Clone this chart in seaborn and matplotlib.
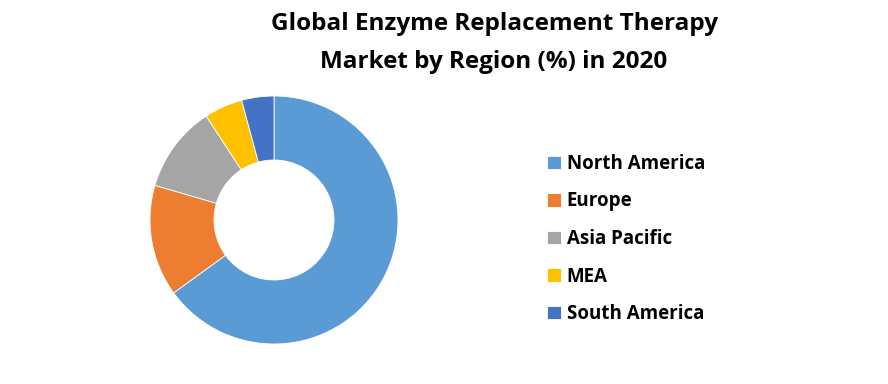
import matplotlib
matplotlib.use("Agg")
import matplotlib.pyplot as plt
import seaborn as sns

regions = ["North America", "Europe", "Asia Pacific", "MEA", "South America"]
shares = [65.0, 14.5, 11.3, 5.0, 4.2]
colors = ["#5B9BD5", "#ED7D31", "#A5A5A5", "#FFC000", "#4472C4"]
title = "Global Enzyme Replacement Therapy\nMarket by Region (%) in 2020"

sns.set_theme(style="white")
plt.rcParams["font.family"] = ["Open Sans", "DejaVu Sans"]

W, H = 888, 384
fig = plt.figure(figsize=(W / 100, H / 100), dpi=100)
fig.patch.set_facecolor("white")

cx, cy, r = 274, 220, 124
ax = fig.add_axes([(cx - r) / W, (H - cy - r) / H, 2 * r / W, 2 * r / H])
wedges, _ = ax.pie(shares, colors=colors, startangle=90, counterclock=False,
                   radius=1.0, wedgeprops=dict(width=1 - 60 / 124, edgecolor="white", linewidth=0.6))
ax.set_xlim(-1, 1)
ax.set_ylim(-1, 1)
ax.set_aspect("equal")
ax.axis("off")

fig.text(494 / W, 1 - 43 / H, title, ha="center", va="center",
         fontsize=17.5, fontweight="bold", linespacing=1.75, color="black")

leg = fig.legend(wedges, regions, loc="center left",
                 bbox_to_anchor=(538 / W, 1 - 239 / H), frameon=False,
                 prop=dict(size=13.5, weight="bold"),
                 handlelength=0.72, handleheight=0.72, handletextpad=0.3,
                 labelspacing=0.94, borderpad=0)
for t in leg.get_texts():
    t.set_color("black")

fig.savefig("out.png", dpi=100, facecolor="white")
